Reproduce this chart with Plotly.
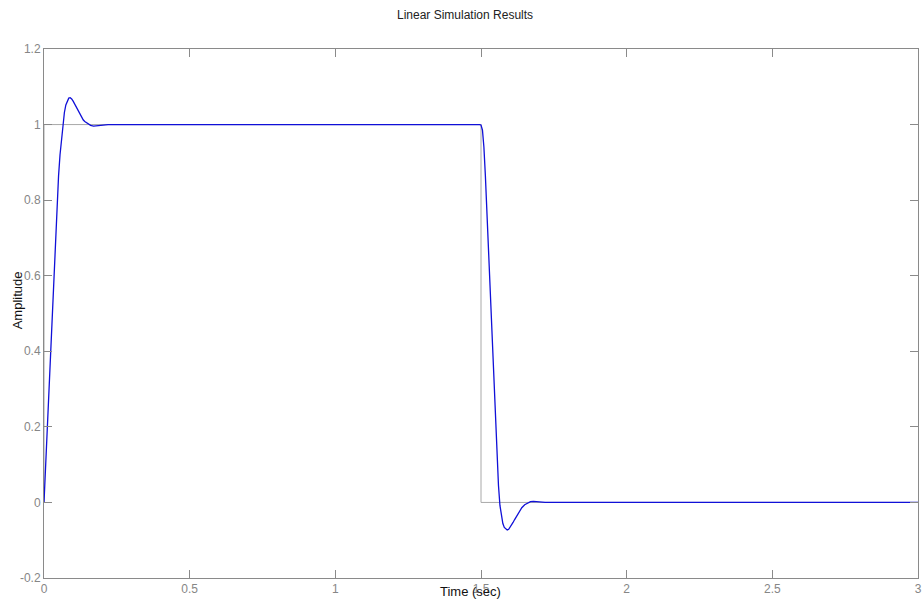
import plotly.graph_objects as go

# Input signal: unit pulse from 0 to 1.5 s
input_t = [0.0, 0.0, 1.5, 1.5, 3.0]
input_u = [0.0, 1.0, 1.0, 0.0, 0.0]

# System response
resp_t = [
    0.000, 0.005, 0.010, 0.015, 0.020, 0.025, 0.030, 0.035, 0.040, 0.045,
    0.050, 0.055, 0.060, 0.065, 0.070, 0.075, 0.080, 0.085, 0.090, 0.095,
    0.100, 0.105, 0.110, 0.115, 0.120, 0.125, 0.130, 0.135, 0.140, 0.150,
    0.160, 0.170, 0.180, 0.190, 0.200, 0.220, 1.495, 1.500,
    1.505, 1.510, 1.515, 1.520, 1.525, 1.530, 1.535, 1.540, 1.545, 1.550,
    1.555, 1.560, 1.565, 1.570, 1.575, 1.580, 1.585, 1.590, 1.595, 1.600,
    1.605, 1.610, 1.615, 1.620, 1.625, 1.630, 1.635, 1.640, 1.650, 1.660,
    1.670, 1.680, 1.690, 1.700, 1.720, 3.000,
]
resp_y = [
    0.000, 0.085, 0.180, 0.270, 0.360, 0.450, 0.540, 0.630, 0.715, 0.795,
    0.865, 0.920, 0.965, 1.002, 1.032, 1.052, 1.064, 1.070, 1.071, 1.068,
    1.062, 1.055, 1.047, 1.039, 1.031, 1.024, 1.018, 1.012, 1.008, 1.002,
    0.998, 0.996, 0.997, 0.998, 0.999, 1.000, 1.000, 0.999,
    0.985, 0.940, 0.865, 0.775, 0.680, 0.580, 0.480, 0.385, 0.290, 0.200,
    0.115, 0.045, -0.008, -0.038, -0.056, -0.066, -0.071, -0.073, -0.071, -0.066,
    -0.060, -0.053, -0.046, -0.039, -0.032, -0.025, -0.019, -0.014, -0.006, -0.001,
    0.002, 0.003, 0.002, 0.001, 0.000, 0.000,
]

x_ticks = [0, 0.5, 1, 1.5, 2, 2.5, 3]
x_tick_text = ["0", "0.5", "1", "1.5", "2", "2.5", "3"]
y_ticks = [-0.2, 0, 0.2, 0.4, 0.6, 0.8, 1, 1.2]
y_tick_text = ["-0.2", "0", "0.2", "0.4", "0.6", "0.8", "1", "1.2"]

axis_gray = "#8a8a8a"
label_gray = "#868686"
font_family = "Liberation Sans, Arial, sans-serif"

fig = go.Figure()
fig.add_trace(go.Scatter(
    x=input_t, y=input_u, mode="lines",
    line=dict(color="#a8a8a8", width=1), hoverinfo="skip", showlegend=False,
))
fig.add_trace(go.Scatter(
    x=resp_t, y=resp_y, mode="lines",
    line=dict(color="#1010d8", width=1.3),
    showlegend=False,
))

axis_common = dict(
    showgrid=False, zeroline=False, showline=True, linecolor=axis_gray,
    linewidth=1, mirror="ticks", ticks="inside", ticklen=8, tickcolor=axis_gray,
    ticklabeloverflow="allow",
    tickfont=dict(family=font_family, size=12, color=label_gray),
)
fig.update_xaxes(range=[0, 3], tickvals=x_ticks, ticktext=x_tick_text, **axis_common)
fig.update_yaxes(range=[-0.2, 1.2], tickvals=y_ticks, ticktext=y_tick_text, **axis_common)

fig.add_annotation(
    text="Linear Simulation Results", xref="paper", yref="paper",
    x=0.482, y=1, yshift=43, showarrow=False,
    font=dict(family=font_family, size=12, color="#222222"),
)
fig.add_annotation(
    text="Time (sec)", xref="paper", yref="paper",
    x=0.488, y=0, yshift=-23, showarrow=False,
    font=dict(family=font_family, size=13, color="#111111"),
)
fig.add_annotation(
    text="Amplitude", xref="paper", yref="paper",
    x=0, xshift=-36, y=0.524, textangle=-90, showarrow=False,
    font=dict(family=font_family, size=13, color="#111111"),
)

fig.update_layout(
    width=922, height=604,
    margin=dict(l=44, r=0, t=49, b=26),
    paper_bgcolor="white", plot_bgcolor="white",
)

fig.write_html("out.html")
